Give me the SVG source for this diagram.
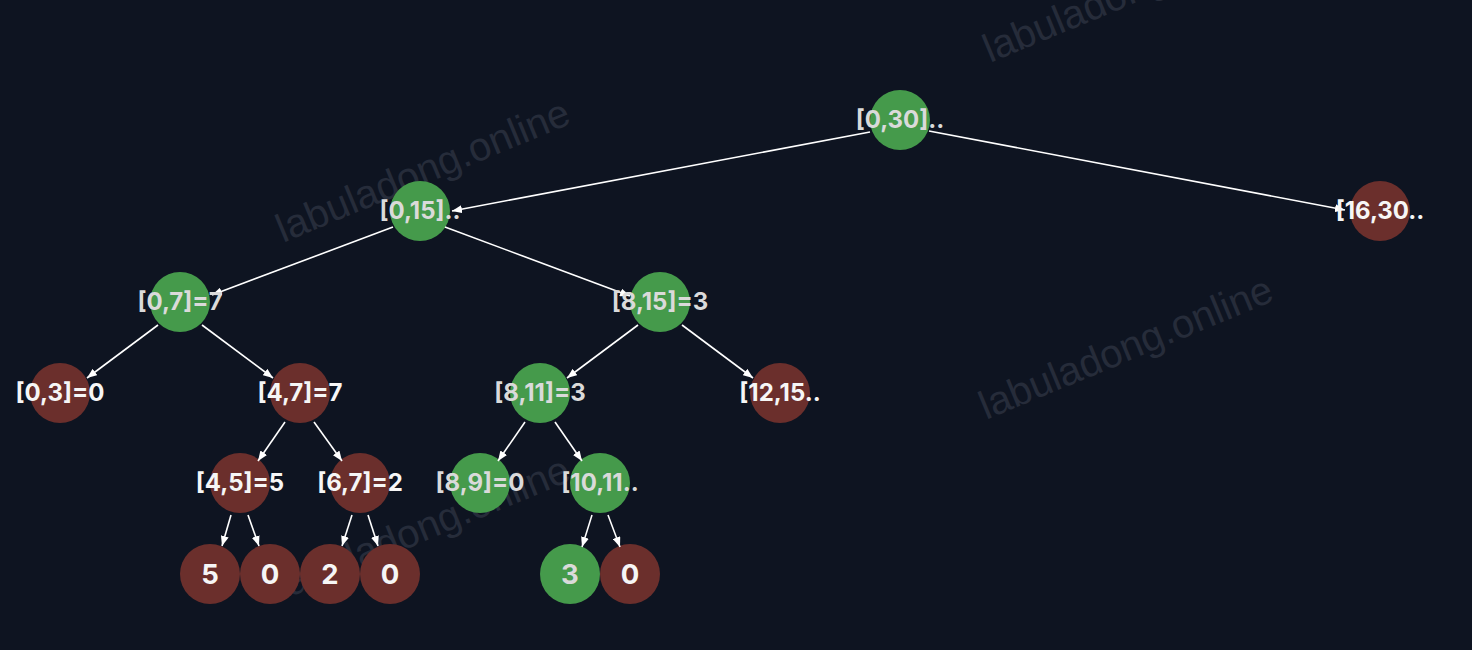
<svg xmlns="http://www.w3.org/2000/svg" width="1472" height="650" viewBox="0 0 1472 650">
<style>
.bg{fill:#0e1421}
.wm{font-family:"Liberation Sans",Arial,sans-serif;font-size:40px;fill:#262c3a}
.g{fill:#459a4b}
.r{fill:#6b2f2c}
.t{font-family:Inter,"Liberation Sans",sans-serif;font-weight:700;font-size:24px;text-anchor:middle}
.tl{font-family:Inter,"Liberation Sans",sans-serif;font-weight:700;font-size:27.5px;text-anchor:middle}
.tg{fill:#dadada}
.tr{fill:#f6f6f6}
.e{stroke:#ffffff;stroke-width:1.6;fill:none;marker-end:url(#ah)}
</style>
<defs>
<marker id="ah" markerUnits="userSpaceOnUse" markerWidth="10" markerHeight="8" refX="10" refY="4" orient="auto">
<path d="M0,0 L10,4 L0,8 z" fill="#ffffff"/>
</marker>
</defs>
<rect class="bg" x="0" y="0" width="1472" height="650"/>
<g id="watermarks">
<text class="wm" transform="translate(283,243) rotate(-22.5)">labuladong.online</text>
<text class="wm" transform="translate(283,600) rotate(-22.5)">labuladong.online</text>
<text class="wm" transform="translate(990,63) rotate(-22.5)">labuladong.online</text>
<text class="wm" transform="translate(986,420) rotate(-22.5)">labuladong.online</text>
</g>
<g id="nodes-shapes">
<g id="n030"><circle class="g" cx="900" cy="120" r="30"/></g>
<g id="n015"><circle class="g" cx="420" cy="211" r="30"/></g>
<g id="n1630"><circle class="r" cx="1380" cy="211" r="30"/></g>
<g id="n07"><circle class="g" cx="180" cy="302" r="30"/></g>
<g id="n815"><circle class="g" cx="660" cy="302" r="30"/></g>
<g id="n03"><circle class="r" cx="60" cy="393" r="30"/></g>
<g id="n47"><circle class="r" cx="300" cy="393" r="30"/></g>
<g id="n811"><circle class="g" cx="540" cy="393" r="30"/></g>
<g id="n1215"><circle class="r" cx="780" cy="393" r="30"/></g>
<g id="n45"><circle class="r" cx="240" cy="483" r="30"/></g>
<g id="n67"><circle class="r" cx="360" cy="483" r="30"/></g>
<g id="n89"><circle class="g" cx="480" cy="483" r="30"/></g>
<g id="n1011"><circle class="g" cx="600" cy="483" r="30"/></g>
<g id="l4"><circle class="r" cx="210" cy="574" r="30"/></g>
<g id="l5"><circle class="r" cx="270" cy="574" r="30"/></g>
<g id="l6"><circle class="r" cx="330" cy="574" r="30"/></g>
<g id="l7"><circle class="r" cx="390" cy="574" r="30"/></g>
<g id="l10"><circle class="g" cx="570" cy="574" r="30"/></g>
<g id="l11"><circle class="r" cx="630" cy="574" r="30"/></g>
</g>
<g id="connectors">
<line class="e" x1="870" y1="132" x2="452" y2="211"/>
<line class="e" x1="929" y1="131" x2="1345" y2="210"/>
<line class="e" x1="393" y1="227" x2="212" y2="295"/>
<line class="e" x1="445" y1="227" x2="630" y2="296"/>
<line class="e" x1="158" y1="325" x2="87" y2="378"/>
<line class="e" x1="202" y1="325" x2="273" y2="378"/>
<line class="e" x1="638" y1="325" x2="567" y2="378"/>
<line class="e" x1="682" y1="325" x2="753" y2="378"/>
<line class="e" x1="285" y1="422" x2="258" y2="461"/>
<line class="e" x1="314" y1="422" x2="342" y2="461"/>
<line class="e" x1="525" y1="422" x2="498" y2="461"/>
<line class="e" x1="555" y1="422" x2="582" y2="461"/>
<line class="e" x1="231" y1="515" x2="222" y2="546"/>
<line class="e" x1="248" y1="515" x2="259" y2="546"/>
<line class="e" x1="352" y1="515" x2="342" y2="546"/>
<line class="e" x1="368" y1="515" x2="378" y2="546"/>
<line class="e" x1="592" y1="515" x2="582" y2="547"/>
<line class="e" x1="608" y1="515" x2="620" y2="547"/>
</g>
<g id="labels">
<text class="t tg" x="900" y="127.5">[0,30]..</text>
<text class="t tg" x="420" y="218.5">[0,15]..</text>
<text class="t tr" x="1380" y="218.5">[16,30..</text>
<text class="t tg" x="180" y="309.5">[0,7]=7</text>
<text class="t tg" x="660" y="309.5">[8,15]=3</text>
<text class="t tr" x="60" y="400.5">[0,3]=0</text>
<text class="t tr" x="300" y="400.5">[4,7]=7</text>
<text class="t tg" x="540" y="400.5">[8,11]=3</text>
<text class="t tr" x="780" y="400.5">[12,15..</text>
<text class="t tr" x="240" y="490.5">[4,5]=5</text>
<text class="t tr" x="360" y="490.5">[6,7]=2</text>
<text class="t tg" x="480" y="490.5">[8,9]=0</text>
<text class="t tg" x="600" y="490.5">[10,11..</text>
<text class="tl tr" x="210" y="583.5">5</text>
<text class="tl tr" x="270" y="583.5">0</text>
<text class="tl tr" x="330" y="583.5">2</text>
<text class="tl tr" x="390" y="583.5">0</text>
<text class="tl tg" x="570" y="583.5">3</text>
<text class="tl tr" x="630" y="583.5">0</text>
</g>
</svg>
